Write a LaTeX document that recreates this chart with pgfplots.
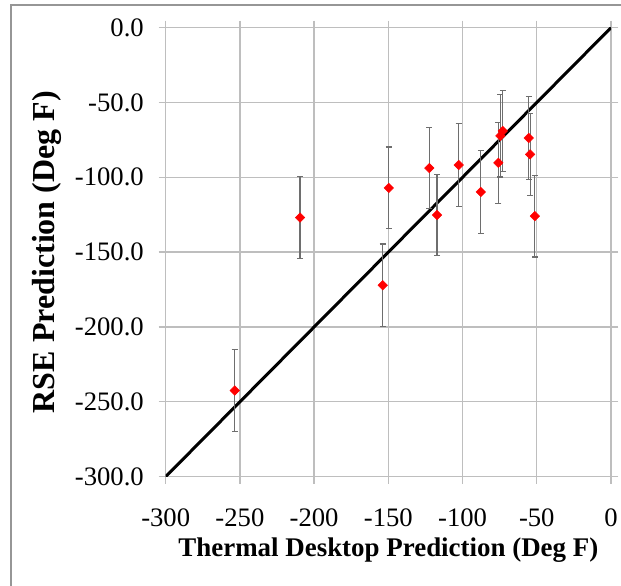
\documentclass[border=0pt]{standalone}
\usepackage{pgfplots}
\pgfplotsset{compat=1.18}
\usepackage{fontspec}
\setmainfont{Liberation Serif}

\definecolor{gridgray}{RGB}{190,190,190}
\definecolor{bargray}{RGB}{110,110,110}
\definecolor{framegray}{RGB}{150,150,150}

\begin{document}
\begin{tikzpicture}
% outer chart frame (only top and left edges lie inside the picture)
\fill[white] (-124.3pt,-82pt) rectangle (341.5pt,357.5pt);
\draw[framegray, line width=1.5pt] (-116pt,-82pt) -- (-116pt,353.5pt) -- (341.5pt,353.5pt);
\begin{axis}[
    scale only axis,
    width=334pt, height=336.75pt,
    xmin=-300, xmax=0, ymin=-300, ymax=0,
    xtick={-300,-250,...,0},
    ytick={-300,-250,...,0},
    xticklabels={{-300},{-250},{-200},{-150},{-100},{-50},{0}},
    yticklabels={{-300.0},{-250.0},{-200.0},{-150.0},{-100.0},{-50.0},{0.0}},
    tick align=outside,
    major tick length=5.25pt,
    tick style={gridgray, line width=1pt},
    grid=major,
    grid style={gridgray, line width=1pt},
    axis line style={gridgray, line width=1pt},
    ticklabel style={font=\fontsize{20}{22}\selectfont, inner sep=0pt},
    yticklabel style={anchor=east, xshift=-11pt},
    xticklabel style={anchor=north, yshift=-19pt},
    xlabel={\textbf{Thermal Desktop Prediction (Deg F)}},
    ylabel={\textbf{RSE Prediction (Deg F)}},
    xlabel style={font=\fontsize{20.2}{22}\selectfont, at={(axis description cs:0.5,-0.1633)}, anchor=center},
    ylabel style={font=\fontsize{24}{26}\selectfont, at={(axis description cs:-0.2665,0.5)}, anchor=center},
]
% 1:1 line
\addplot[black, line width=2.25pt, no marks] coordinates {(-300,-300) (0,0)};
% RSE vs Thermal Desktop with error bars
\addplot[only marks, mark=square*, mark size=2.5pt,
    mark options={fill=red, draw=red, rotate=45},
    error bars/.cd, y dir=both, y explicit,
    error bar style={bargray, line width=0.9pt},
    error mark options={bargray, line width=0.9pt, mark size=2.25pt, rotate=90}]
coordinates {
    (-253.5,-242.5) +- (0,27.5)
    (-209.5,-126.9) +- (0,27.3)
    (-153.8,-172.1) +- (0,27.5)
    (-149.7,-107.1) +- (0,27.3)
    (-122.4,-93.8)  +- (0,27.2)
    (-117.2,-125.2) +- (0,27.0)
    (-102.6,-91.8)  +- (0,27.5)
    (-87.7,-109.8)  +- (0,27.5)
    (-75.9,-90.3)   +- (0,27.0)
    (-74.5,-72.3)   +- (0,27.5)
    (-72.9,-69.0)   +- (0,27.0)
    (-55.4,-73.7)   +- (0,27.5)
    (-54.5,-84.7)   +- (0,27.2)
    (-51.3,-125.9)  +- (0,27.3)
};
\end{axis}
\pgfresetboundingbox
\path (-124.3pt,-82pt) rectangle (341.5pt,357.5pt);
\end{tikzpicture}
\end{document}
